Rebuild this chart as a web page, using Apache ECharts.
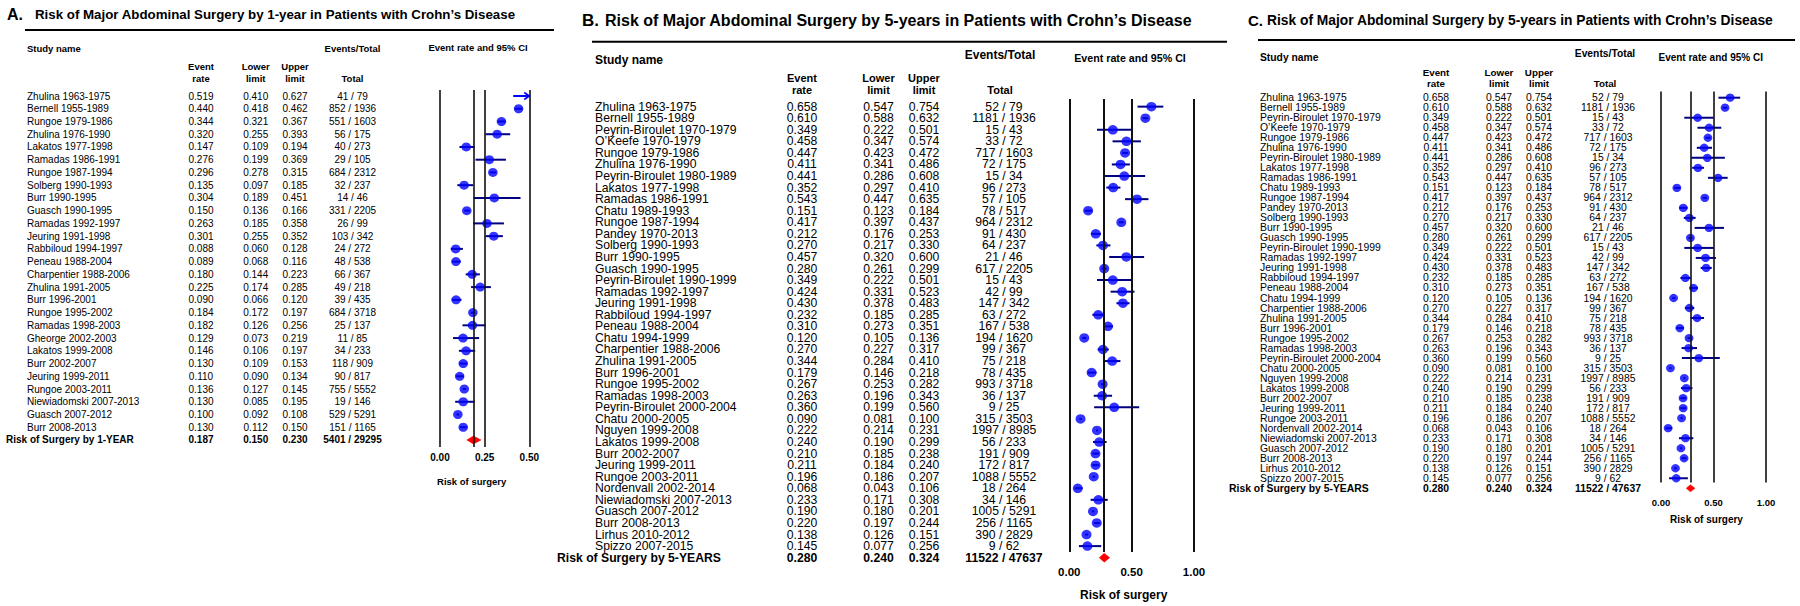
<!DOCTYPE html>
<html><head><meta charset="utf-8">
<script src="https://cdn.jsdelivr.net/npm/echarts@6/dist/echarts.min.js"></script>
<style>html,body{margin:0;padding:0;background:#fff}#c{width:1800px;height:606px}</style>
</head><body><div id="c"></div>
<script>
// ================= DATA =================
const titleA = 'Risk of Major Abdominal Surgery by 1-year in Patients with Crohn\u2019s Disease';
const titleB = 'Risk of Major Abdominal Surgery by 5-years in Patients with Crohn\u2019s Disease';
const titleC = 'Risk of Major Abdominal Surgery by 5-years in Patients with Crohn\u2019s Disease';

const studiesA = ['Zhulina 1963-1975','Bernell 1955-1989','Rungoe 1979-1986','Zhulina 1976-1990','Lakatos 1977-1998','Ramadas 1986-1991','Rungoe 1987-1994','Solberg 1990-1993','Burr 1990-1995','Guasch 1990-1995','Ramadas 1992-1997','Jeuring 1991-1998','Rabbiloud 1994-1997','Peneau 1988-2004','Charpentier 1988-2006','Zhulina 1991-2005','Burr 1996-2001','Rungoe 1995-2002','Ramadas 1998-2003','Gheorge 2002-2003','Lakatos 1999-2008','Burr 2002-2007','Jeuring 1999-2011','Rungoe 2003-2011','Niewiadomski 2007-2013','Guasch 2007-2012','Burr 2008-2013'];
const rateA  = [0.519,0.440,0.344,0.320,0.147,0.276,0.296,0.135,0.304,0.150,0.263,0.301,0.088,0.089,0.180,0.225,0.090,0.184,0.182,0.129,0.146,0.130,0.110,0.136,0.130,0.100,0.130];
const lowerA = [0.410,0.418,0.321,0.255,0.109,0.199,0.278,0.097,0.189,0.136,0.185,0.255,0.060,0.068,0.144,0.174,0.066,0.172,0.126,0.073,0.106,0.109,0.090,0.127,0.085,0.092,0.112];
const upperA = [0.627,0.462,0.367,0.393,0.194,0.369,0.315,0.185,0.451,0.166,0.358,0.352,0.128,0.116,0.223,0.285,0.120,0.197,0.256,0.219,0.197,0.153,0.134,0.145,0.195,0.108,0.150];
const eventsA = [41,852,551,56,40,29,684,32,14,331,26,103,24,48,66,49,39,684,25,11,34,118,90,755,19,529,151];
const totalsA = [79,1936,1603,175,273,105,2312,237,46,2205,99,342,272,538,367,218,435,3718,137,85,233,909,817,5552,146,5291,1165];
const summaryLabelA = 'Risk of Surgery by 1-YEAR';
const summaryA = [0.187, 0.150, 0.230];      // rate, lower, upper
const summaryCountA = [5401, 29295];          // events, total
const ticksA = [0, 0.25, 0.50];

const studies5y = ['Zhulina 1963-1975','Bernell 1955-1989','Peyrin-Biroulet 1970-1979','O\u2019Keefe 1970-1979','Rungoe 1979-1986','Zhulina 1976-1990','Peyrin-Biroulet 1980-1989','Lakatos 1977-1998','Ramadas 1986-1991','Chatu 1989-1993','Rungoe 1987-1994','Pandey 1970-2013','Solberg 1990-1993','Burr 1990-1995','Guasch 1990-1995','Peyrin-Biroulet 1990-1999','Ramadas 1992-1997','Jeuring 1991-1998','Rabbiloud 1994-1997','Peneau 1988-2004','Chatu 1994-1999','Charpentier 1988-2006','Zhulina 1991-2005','Burr 1996-2001','Rungoe 1995-2002','Ramadas 1998-2003','Peyrin-Biroulet 2000-2004','Chatu 2000-2005','Nguyen 1999-2008','Lakatos 1999-2008','Burr 2002-2007','Jeuring 1999-2011','Rungoe 2003-2011','Nordenvall 2002-2014','Niewiadomski 2007-2013','Guasch 2007-2012','Burr 2008-2013','Lirhus 2010-2012','Spizzo 2007-2015'];
const rate5y  = [0.658,0.610,0.349,0.458,0.447,0.411,0.441,0.352,0.543,0.151,0.417,0.212,0.270,0.457,0.280,0.349,0.424,0.430,0.232,0.310,0.120,0.270,0.344,0.179,0.267,0.263,0.360,0.090,0.222,0.240,0.210,0.211,0.196,0.068,0.233,0.190,0.220,0.138,0.145];
const lower5y = [0.547,0.588,0.222,0.347,0.423,0.341,0.286,0.297,0.447,0.123,0.397,0.176,0.217,0.320,0.261,0.222,0.331,0.378,0.185,0.273,0.105,0.227,0.284,0.146,0.253,0.196,0.199,0.081,0.214,0.190,0.185,0.184,0.186,0.043,0.171,0.180,0.197,0.126,0.077];
const upper5y = [0.754,0.632,0.501,0.574,0.472,0.486,0.608,0.410,0.635,0.184,0.437,0.253,0.330,0.600,0.299,0.501,0.523,0.483,0.285,0.351,0.136,0.317,0.410,0.218,0.282,0.343,0.560,0.100,0.231,0.299,0.238,0.240,0.207,0.106,0.308,0.201,0.244,0.151,0.256];
const events5y = [52,1181,15,33,717,72,15,96,57,78,964,91,64,21,617,15,42,147,63,167,194,99,75,78,993,36,9,315,1997,56,191,172,1088,18,34,1005,256,390,9];
const totals5y = [79,1936,43,72,1603,175,34,273,105,517,2312,430,237,46,2205,43,99,342,272,538,1620,367,218,435,3718,137,25,3503,8985,233,909,817,5552,264,146,5291,1165,2829,62];
const summaryLabel5y = 'Risk of Surgery by 5-YEARS';
const summary5y = [0.280, 0.240, 0.324];
const summaryCount5y = [11522, 47637];
const ticks5y = [0, 0.50, 1.00];

const headerTexts = {study:'Study name', evtTot:'Events/Total', ev1:'Event', ev2:'rate', lo1:'Lower', lo2:'limit', up1:'Upper', up2:'limit', total:'Total', ci:'Event rate and 95% CI', axisName:'Risk of surgery'};

// ================= LAYOUT (positions / sizes / styles) =================
const FONT = '"Liberation Sans", Arial, Helvetica, sans-serif';
const COL_DOT = '#0000ff', COL_CI = '#000080', COL_DIAMOND = '#ff0000', COL_VLINE = '#111111';

const PANELS = [
  { letter:'A.', title:titleA, studies:studiesA, rate:rateA, lower:lowerA, upper:upperA, events:eventsA, totals:totalsA,
    sumLabel:summaryLabelA, sum:summaryA, sumCount:summaryCountA, ticks:ticksA,
    L:{ letterX:7, letterSize:16, titleX:35, titleY:14.5, titleSize:13.3,
        ruleY:30, ruleX0:25, ruleX1:554, ruleW:2,
        plotX0:440, plotX1:529.3, lineTop:90, lineBottom:447, row1Y:96, rowStep:12.74,
        nameX:27, sumX:6, cols:[201, 255.7, 295, 352.5], rowFont:10,
        headFont:9.5, headFont2:9.5, studyY:48, evtTotY:48, head1Y:66, head2Y:78, totalX:352.5,
        ciX:478, ciY:47, ciFont:9.5,
        tickFont:10, tickMargin:5, nameFont:9.5, nameGap:29, namePad:26,
        dot:[9.5,9], ciW:2, diamondH:4, vlineW:1.6 } },
  { letter:'B.', title:titleB, studies:studies5y, rate:rate5y, lower:lower5y, upper:upper5y, events:events5y, totals:totals5y,
    sumLabel:summaryLabel5y, sum:summary5y, sumCount:summaryCount5y, ticks:ticks5y,
    L:{ letterX:582, letterSize:17, titleX:605, titleY:20, titleSize:16,
        ruleY:41.7, ruleX0:592, ruleX1:1227, ruleW:2,
        plotX0:1069.3, plotX1:1194, lineTop:99, lineBottom:556, row1Y:106.7, rowStep:11.667,
        nameX:595, sumX:557, cols:[802, 878.5, 924, 1004], rowFont:12.2,
        headFont:12, headFont2:11, studyY:60, evtTotY:55, head1Y:78, head2Y:89.5, totalX:1000,
        ciX:1130, ciY:58, ciFont:10.7,
        tickFont:11.5, tickMargin:14, nameFont:12, nameGap:37, namePad:16,
        dot:[10,9.5], ciW:2, diamondH:4.5, vlineW:2 } },
  { letter:'C.', title:titleC, studies:studies5y, rate:rate5y, lower:lower5y, upper:upper5y, events:events5y, totals:totals5y,
    sumLabel:summaryLabel5y, sum:summary5y, sumCount:summaryCount5y, ticks:ticks5y,
    L:{ letterX:1248, letterSize:15, titleX:1267, titleY:20.5, titleSize:13.8,
        ruleY:40, ruleX0:1258, ruleX1:1795, ruleW:2,
        plotX0:1661, plotX1:1766, lineTop:91.4, lineBottom:482.5, row1Y:97.7, rowStep:10.015,
        nameX:1260, sumX:1229, cols:[1436, 1499, 1539, 1608], rowFont:10.4,
        headFont:10.3, headFont2:9.8, studyY:57.3, evtTotY:53.3, head1Y:72.5, head2Y:83, totalX:1605,
        ciX:1710.7, ciY:57, ciFont:10,
        tickFont:9.5, tickMargin:15, nameFont:10, nameGap:32, namePad:14,
        dot:[8.8,8.3], ciW:2, diamondH:3.5, vlineW:1.6 } }
];

// ================= BUILD =================
const chart = echarts.init(document.getElementById('c'), null, {renderer:'svg', width:1800, height:606});
const grids = [], xAxes = [], yAxes = [], series = [], graphics = [];

function txt(text, x, y, size, weight, align, va) {
  return { type:'text', x:x, y:y, silent:true,
    style:{ text:text, fill:'#000', fontFamily:FONT, fontSize:size, fontWeight:weight||'normal',
            align:align||'left', verticalAlign:va||'middle' } };
}

PANELS.forEach((P, gi) => {
  const L = P.L;
  const n = P.studies.length;
  const sumY = L.row1Y + n * L.rowStep;
  const xmin = P.ticks[0], xmax = P.ticks[P.ticks.length - 1];

  grids.push({ left:L.plotX0, top:L.lineTop, width:L.plotX1 - L.plotX0, height:L.lineBottom - L.lineTop });
  xAxes.push({ gridIndex:gi, type:'value', min:xmin, max:xmax, interval:P.ticks[1] - P.ticks[0],
    axisLine:{show:false}, axisTick:{show:false}, splitLine:{show:false},
    axisLabel:{ formatter:v => v.toFixed(2), fontFamily:FONT, fontWeight:'bold', fontSize:L.tickFont,
                color:'#000', margin:L.tickMargin, showMinLabel:true, showMaxLabel:true },
    name:headerTexts.axisName, nameLocation:'middle', nameGap:L.nameGap,
    nameTextStyle:{ fontFamily:FONT, fontWeight:'bold', fontSize:L.nameFont, color:'#000', padding:[0, L.namePad, 0, 0] } });
  yAxes.push({ gridIndex:gi, type:'value', inverse:true, show:false,
    min:-(L.row1Y - L.lineTop) / L.rowStep, max:n + (L.lineBottom - sumY) / L.rowStep });

  // confidence interval lines
  series.push({ type:'custom', xAxisIndex:gi, yAxisIndex:gi, z:2, silent:true,
    data:P.studies.map((s, i) => [P.lower[i], P.upper[i], i]),
    encode:{x:[0,1], y:2},
    renderItem:(params, api) => {
      const lo = api.value(0), hi = api.value(1), row = api.value(2);
      const over = hi > xmax;
      const a = api.coord([Math.max(lo, xmin), row]);
      const b = api.coord([Math.min(hi, xmax), row]);
      const col = over ? COL_DOT : COL_CI;
      const ch = [{ type:'line', shape:{x1:a[0], y1:a[1], x2:b[0], y2:b[1]}, style:{stroke:col, lineWidth:L.ciW} }];
      if (over) ch.push({ type:'polyline', shape:{points:[[b[0]-5, b[1]-3.5],[b[0], b[1]],[b[0]-5, b[1]+3.5]]},
                          style:{stroke:col, lineWidth:1.6, fill:null} });
      return { type:'group', children:ch };
    } });

  // point estimates + reference lines
  series.push({ type:'scatter', xAxisIndex:gi, yAxisIndex:gi, z:3, clip:true, silent:true,
    symbol:'circle', symbolSize:L.dot, itemStyle:{color:COL_DOT},
    data:P.studies.map((s, i) => [P.rate[i], i]),
    markLine:{ silent:true, symbol:['none','none'], label:{show:false}, animation:false,
      lineStyle:{color:COL_VLINE, width:L.vlineW, type:'solid'},
      data:P.ticks.map(v => ({xAxis:v})).concat([{xAxis:P.sum[0]}]) } });

  // summary diamond
  series.push({ type:'custom', xAxisIndex:gi, yAxisIndex:gi, z:4, silent:true,
    data:[[P.sum[1], P.sum[2], P.sum[0], n]], encode:{x:[0,1,2], y:3},
    renderItem:(params, api) => {
      const row = api.value(3);
      const l = api.coord([api.value(0), row]), r = api.coord([api.value(1), row]), m = api.coord([api.value(2), row]);
      return { type:'polygon', shape:{points:[[l[0], l[1]], [m[0], m[1]-L.diamondH], [r[0], r[1]], [m[0], m[1]+L.diamondH]]},
               style:{fill:COL_DIAMOND, stroke:COL_DIAMOND, lineWidth:0.5} };
    } });

  // table text, rows positioned on the same row axis
  series.push({ type:'custom', xAxisIndex:gi, yAxisIndex:gi, z:1, silent:true,
    data:P.studies.map((s, i) => [xmin, i]).concat([[xmin, n]]), encode:{x:0, y:1},
    renderItem:(params, api) => {
      const i = params.dataIndex;
      const y = api.coord([xmin, api.value(1)])[1];
      const isSum = i === n;
      const w = isSum ? 'bold' : 'normal';
      const name = isSum ? P.sumLabel : P.studies[i];
      const vals = isSum ? [P.sum[0], P.sum[1], P.sum[2]] : [P.rate[i], P.lower[i], P.upper[i]];
      const et = isSum ? (P.sumCount[0] + ' / ' + P.sumCount[1]) : (P.events[i] + ' / ' + P.totals[i]);
      const ch = [txt(name, isSum ? L.sumX : L.nameX, y, L.rowFont, w, 'left')];
      vals.forEach((v, k) => ch.push(txt(v.toFixed(3), L.cols[k], y, L.rowFont, w, 'center')));
      ch.push(txt(et, L.cols[3], y, L.rowFont, w, 'center'));
      return { type:'group', children:ch };
    } });

  // titles, rule, headers
  graphics.push(txt(P.letter, L.letterX, L.titleY, L.letterSize, 'bold', 'left'));
  graphics.push(txt(P.title, L.titleX, L.titleY, L.titleSize, 'bold', 'left'));
  graphics.push({ type:'line', silent:true, shape:{x1:L.ruleX0, y1:L.ruleY, x2:L.ruleX1, y2:L.ruleY}, style:{stroke:'#000', lineWidth:L.ruleW} });
  graphics.push(txt(headerTexts.study, L.nameX, L.studyY, L.headFont, 'bold', 'left'));
  graphics.push(txt(headerTexts.evtTot, L.totalX, L.evtTotY, L.headFont, 'bold', 'center'));
  graphics.push(txt(headerTexts.ev1, L.cols[0], L.head1Y, L.headFont2, 'bold', 'center'));
  graphics.push(txt(headerTexts.ev2, L.cols[0], L.head2Y, L.headFont2, 'bold', 'center'));
  graphics.push(txt(headerTexts.lo1, L.cols[1], L.head1Y, L.headFont2, 'bold', 'center'));
  graphics.push(txt(headerTexts.lo2, L.cols[1], L.head2Y, L.headFont2, 'bold', 'center'));
  graphics.push(txt(headerTexts.up1, L.cols[2], L.head1Y, L.headFont2, 'bold', 'center'));
  graphics.push(txt(headerTexts.up2, L.cols[2], L.head2Y, L.headFont2, 'bold', 'center'));
  graphics.push(txt(headerTexts.total, L.totalX, L.head2Y, L.headFont2, 'bold', 'center'));
  graphics.push(txt(headerTexts.ci, L.ciX, L.ciY, L.ciFont, 'bold', 'center'));
});

chart.setOption({
  animation:false,
  backgroundColor:'#ffffff',
  grid:grids, xAxis:xAxes, yAxis:yAxes, series:series,
  graphic:{ elements:graphics }
});
</script>
</body></html>
